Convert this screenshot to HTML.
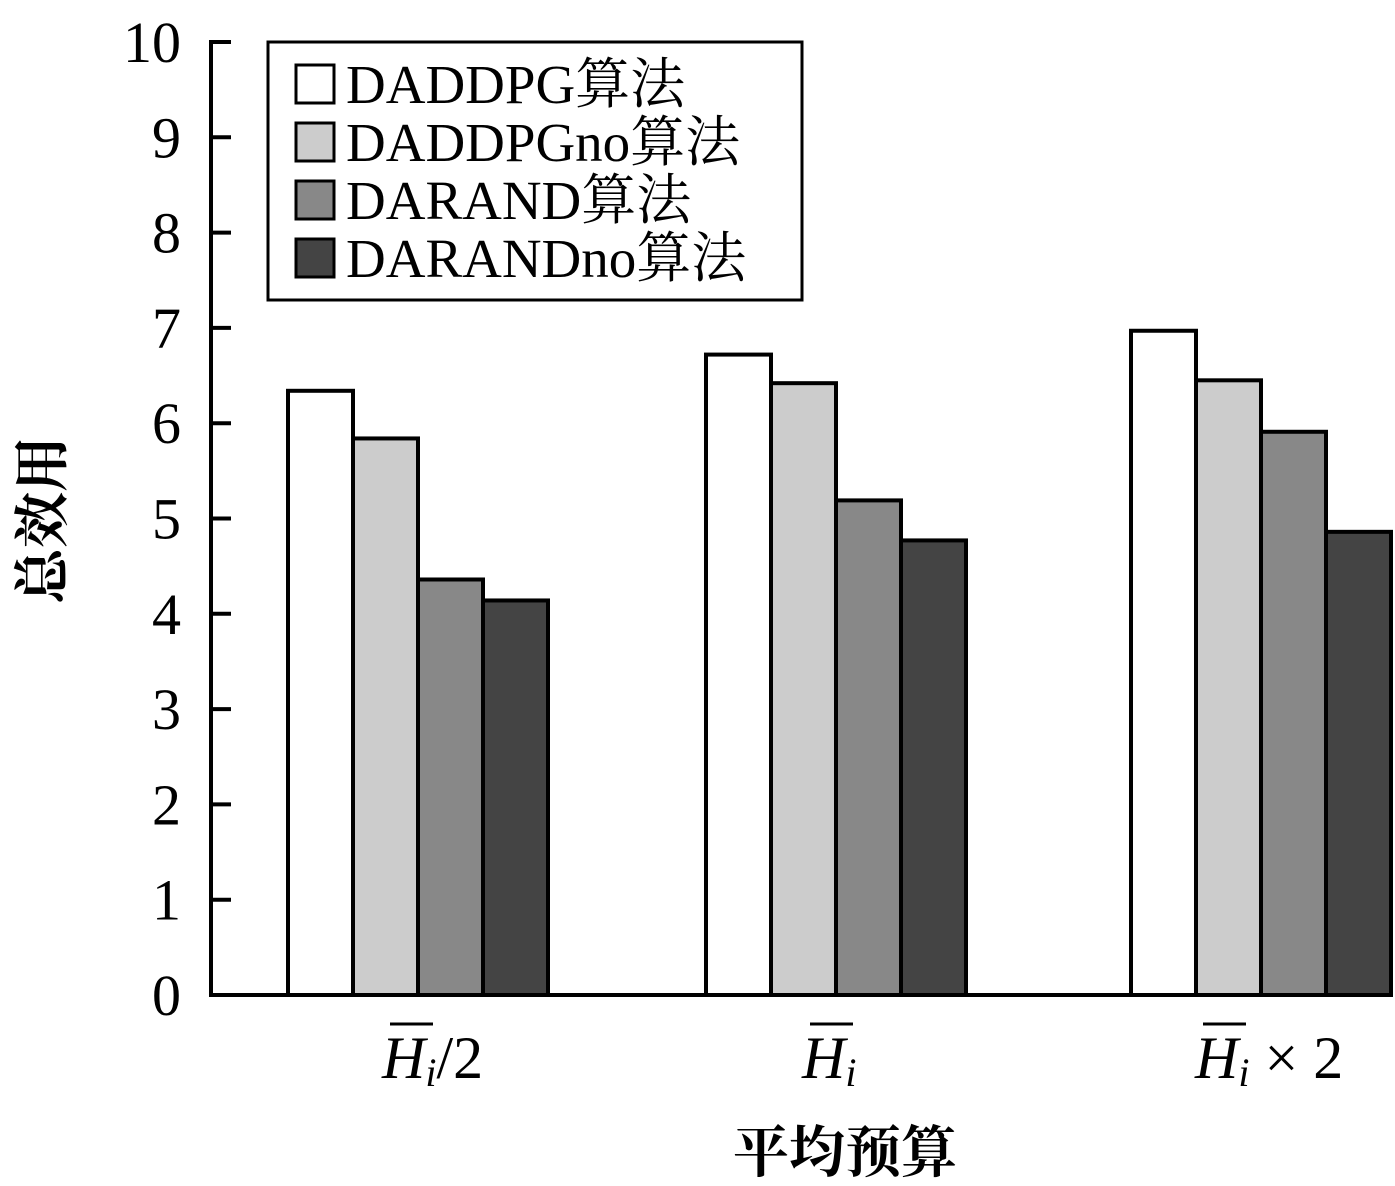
<!DOCTYPE html>
<html><head><meta charset="utf-8"><style>body{margin:0;background:#fff}svg{display:block}text{font-family:"Liberation Serif","Noto Serif CJK SC",serif;fill:#000}</style></head>
<body>
<svg id="chart" width="1395" height="1186" viewBox="0 0 1395 1186" xmlns="http://www.w3.org/2000/svg">
<g id="bars"></g>
<g id="axes"></g>
<g font-size="60">
<text x="382" y="1078"><tspan font-style="italic">H</tspan><tspan font-style="italic" font-size="40" dy="8">i</tspan><tspan dy="-8">/2</tspan></text>
<line x1="390" y1="1024" x2="433" y2="1024" stroke="#000" stroke-width="3"/>
<text x="802" y="1078"><tspan font-style="italic">H</tspan><tspan font-style="italic" font-size="40" dy="8">i</tspan></text>
<line x1="810" y1="1024" x2="853" y2="1024" stroke="#000" stroke-width="3"/>
<text x="1195" y="1078"><tspan font-style="italic">H</tspan><tspan font-style="italic" font-size="40" dy="8">i</tspan><tspan dy="-8"> × 2</tspan></text>
<line x1="1203" y1="1024" x2="1246" y2="1024" stroke="#000" stroke-width="3"/>
</g>
<text x="845" y="1172" font-size="56" font-weight="bold" text-anchor="middle">平均预算</text>
<text transform="translate(62,520) rotate(-90)" font-size="56" font-weight="bold" text-anchor="middle">总效用</text>
<g>
<rect x="268" y="42" width="534" height="258" fill="#fff" stroke="#000" stroke-width="3"/>
<g id="legend-entries"></g>
</g>
<script>
const categories=["H/2","H","H×2"];
const seriesNames=["DADDPG算法","DADDPGno算法","DARAND算法","DARANDno算法"];
const seriesColors=["#ffffff","#cccccc","#888888","#444444"];
const s1=[6.34,6.72,6.97];
const s2=[5.84,6.42,6.45];
const s3=[4.36,5.19,5.91];
const s4=[4.14,4.77,4.86];
const yTicks=[0,1,2,3,4,5,6,7,8,9,10];
const series=[s1,s2,s3,s4];
const NS="http://www.w3.org/2000/svg";
const y0=995, pxPerUnit=95.3;
const yScale=v=>y0-v*pxPerUnit;
const groupStart=[288,706,1131], barW=65;
const xScale=(ci,si)=>groupStart[ci]+si*barW;
const bars=document.getElementById('bars');
series.forEach((vals,si)=>vals.forEach((v,ci)=>{
 const r=document.createElementNS(NS,'rect');
 
 
 r.setAttribute('x',xScale(ci,si));r.setAttribute('y',yScale(v));
 r.setAttribute('width',barW);r.setAttribute('height',y0-yScale(v));
 r.setAttribute('fill',seriesColors[si]);r.setAttribute('stroke','#000');r.setAttribute('stroke-width','4');
 bars.appendChild(r);
}));
const axes=document.getElementById('axes');
function ln(x1,y1,x2,y2,name){const l=document.createElementNS(NS,'line');
 
 
 l.setAttribute('x1',x1);l.setAttribute('y1',y1);l.setAttribute('x2',x2);l.setAttribute('y2',y2);
 l.setAttribute('stroke','#000');l.setAttribute('stroke-width','4');axes.appendChild(l);}
ln(211,40,211,997,'y-axis-line');
ln(209,995,1393,995,'x-axis-line');
yTicks.forEach(t=>{
 ln(211,yScale(t),231,yScale(t),'y-tick');
 const tx=document.createElementNS(NS,'text');
 
 
 tx.setAttribute('x',181);tx.setAttribute('y',yScale(t)+20);tx.setAttribute('font-size','58');tx.setAttribute('text-anchor','end');
 tx.textContent=t;axes.appendChild(tx);
});
const le=document.getElementById('legend-entries');
seriesNames.forEach((n,i)=>{
 const cy=84+i*58;
 const r=document.createElementNS(NS,'rect');
 
 
 r.setAttribute('x',296);r.setAttribute('y',cy-19);r.setAttribute('width',38);r.setAttribute('height',38);
 r.setAttribute('fill',seriesColors[i]);r.setAttribute('stroke','#000');r.setAttribute('stroke-width','3');le.appendChild(r);
 const t=document.createElementNS(NS,'text');
 
 
 t.setAttribute('x',346);t.setAttribute('y',cy+19);t.setAttribute('font-size','55');
 t.textContent=n;le.appendChild(t);
});
</script>
</svg>
</body></html>
